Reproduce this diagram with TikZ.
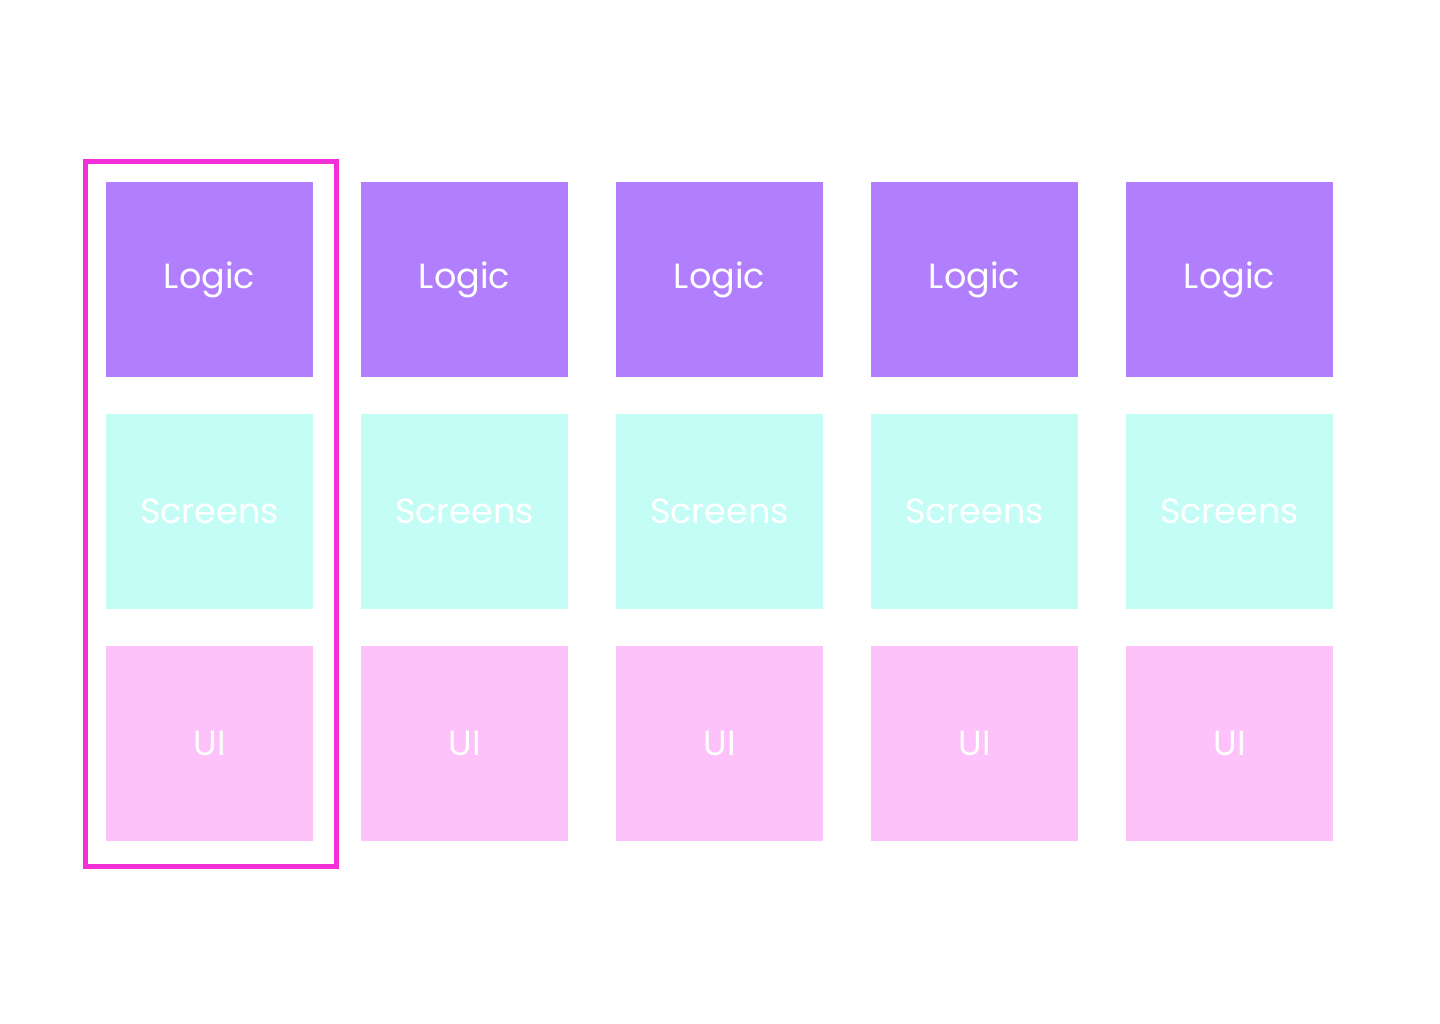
\documentclass[tikz,border=0pt]{standalone}
\usepackage{fontspec}
\setmainfont{Poppins}
\definecolor{logicc}{HTML}{B17FFE}
\definecolor{screenc}{HTML}{C4FDF6}
\definecolor{uic}{HTML}{FDC2F9}
\definecolor{framec}{HTML}{F42FD8}
\tikzset{
  cell/.style={minimum width=207pt, minimum height=195pt, inner sep=0pt, draw=none, text=white, font=\fontsize{35}{38}\selectfont, anchor=center},
  logicbox/.style={cell, fill=logicc},
  screenbox/.style={cell, fill=screenc},
  uibox/.style={cell, fill=uic},
  framebox/.style={draw=framec, line width=5pt}
}
\begin{document}
\begin{tikzpicture}[x=1pt,y=-1pt]
\useasboundingbox (0,0) rectangle (1440,1024);
\foreach \i in {0,...,4} {
  \pgfmathsetmacro{\cx}{209.5+255*\i}
  \node[logicbox] (logic\i) at (\cx,279.5) {Logic};
  \node[screenbox] (screens\i) at (\cx,511.5) {Screens};
  \node[uibox] (ui\i) at (\cx,743.5) {UI};
}
\node[framebox, minimum width=251pt, minimum height=705pt, inner sep=0pt] (frame) at (211,514) {};
\end{tikzpicture}
\end{document}
